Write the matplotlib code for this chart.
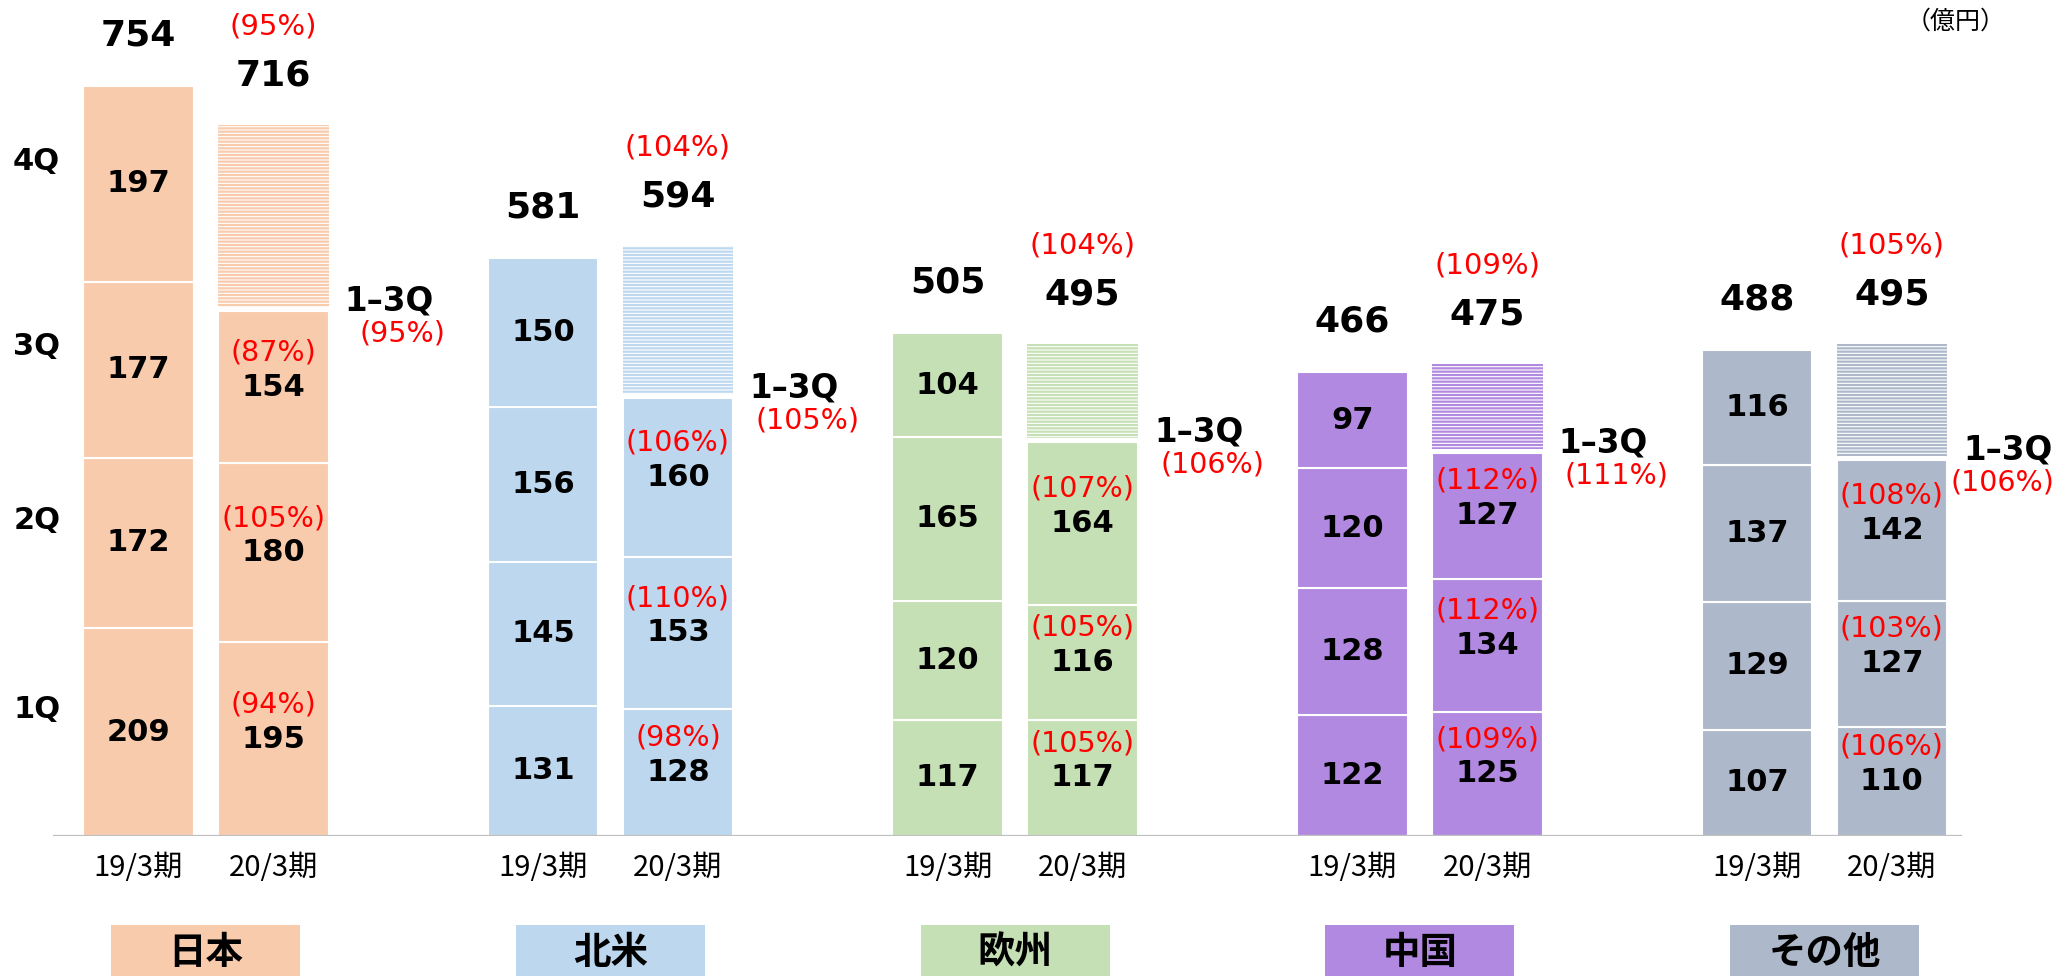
import matplotlib

matplotlib.use("Agg")
import matplotlib.pyplot as plt
import numpy as np

plt.rcParams["font.family"] = ["DejaVu Sans", "Noto Sans CJK JP"]
plt.rcParams["hatch.linewidth"] = 1.6

# quarterly sales (1Q..4Q), 億円
regions = ["日本", "北米", "欧州", "中国", "その他"]
colors = ["#F8CBAD", "#BDD7EE", "#C5E0B4", "#B189E0", "#ADB9CA"]
prev_q = [
    [209, 172, 177, 197],
    [131, 145, 156, 150],
    [117, 120, 165, 104],
    [122, 128, 120, 97],
    [107, 129, 137, 116],
]
prev_total = [754, 581, 505, 466, 488]
cur_q = [  # 1Q..3Q actual
    [195, 180, 154],
    [128, 153, 160],
    [117, 116, 164],
    [125, 134, 127],
    [110, 127, 142],
]
cur_total = [716, 594, 495, 475, 495]  # full-year forecast
cur_pct = [  # yoy per quarter
    ["(94%)", "(105%)", "(87%)"],
    ["(98%)", "(110%)", "(106%)"],
    ["(105%)", "(105%)", "(107%)"],
    ["(109%)", "(112%)", "(112%)"],
    ["(106%)", "(103%)", "(108%)"],
]
total_pct = ["(95%)", "(104%)", "(104%)", "(109%)", "(105%)"]
q13_pct = ["(95%)", "(105%)", "(106%)", "(111%)", "(106%)"]
periods = ["19/3期", "20/3期"]
quarters = ["1Q", "2Q", "3Q", "4Q"]

W = 0.82
pct_dx = [0.96, 0.96, 0.96, 0.96, 0.82]  # last one is squeezed at the edge

fig = plt.figure(figsize=(20.55, 9.76), dpi=100)
ax = fig.add_axes([53 / 2055, 140 / 976, 1909 / 2055, 836 / 976])
ax.set_xlim(-0.633, 13.52)
ax.set_ylim(0, 841.6)
ax.axis("off")
ax.axhline(0, color="#BFBFBF", lw=1.6, zorder=3)

for i, reg in enumerate(regions):
    x0, x1 = 3 * i, 3 * i + 1
    c = colors[i]
    # previous year, 4 quarters
    bottom = 0
    for v in prev_q[i]:
        ax.bar(x0, v, W, bottom=bottom, color=c, edgecolor="white", lw=1.5)
        ax.text(x0, bottom + v / 2, str(v), ha="center", va="center",
                fontsize=22, fontweight="bold")
        bottom += v
    ax.text(x0, prev_total[i] + 52, str(prev_total[i]), ha="center",
            va="center", fontsize=26, fontweight="bold")

    # current year, 1Q-3Q actual + 4Q forecast (hatched)
    bottom = 0
    for v, p in zip(cur_q[i], cur_pct[i]):
        ax.bar(x1, v, W, bottom=bottom, color=c, edgecolor="white", lw=1.5)
        ax.text(x1, bottom + v / 2, str(v), ha="center", va="center",
                fontsize=22, fontweight="bold")
        ax.text(x1, bottom + v / 2 + 35, p, ha="center", va="center",
                fontsize=20.5, color="red")
        bottom += v
    ax.bar(x1, cur_total[i] - bottom - 4, W, bottom=bottom + 4,
           color="white", edgecolor=c, lw=0, hatch="-----")
    ax.text(x1 + 0.86, bottom + 10, "1–3Q", ha="center", va="center",
            fontsize=23.5, fontweight="bold")
    ax.text(x1 + pct_dx[i], bottom - 23, q13_pct[i], ha="center",
            va="center", fontsize=20.5, color="red")
    ax.text(x1, cur_total[i] + 50, str(cur_total[i]), ha="center",
            va="center", fontsize=26, fontweight="bold")
    ax.text(x1, cur_total[i] + 99, total_pct[i], ha="center", va="center",
            fontsize=21, color="red")

    for x, lab in zip([x0, x1], periods):
        ax.text(x, -32, lab, ha="center", va="center", fontsize=21,
                family=["Noto Sans CJK JP"])

    # region tag under the group
    ax.bar(x0 + 0.5, 60, 1.40, bottom=-150, color=c, clip_on=False)
    ax.text(x0 + 0.5, -117, reg, ha="center", va="center", fontsize=27,
            fontweight="bold", family=["Noto Sans CJK JP"])

# quarter labels beside the first bar
qmid = np.cumsum(prev_q[0]) - np.array(prev_q[0]) / 2
for q, y in zip(quarters, qmid):
    ax.text(-0.754, y + 23, q, ha="center", va="center", fontsize=22,
            fontweight="bold", clip_on=False)

fig.text(2006 / 2055, 1 - 22 / 976, "（億円）", ha="right", va="center",
         fontsize=18, family=["Noto Sans CJK JP"])

fig.savefig("out.png", dpi=100)
